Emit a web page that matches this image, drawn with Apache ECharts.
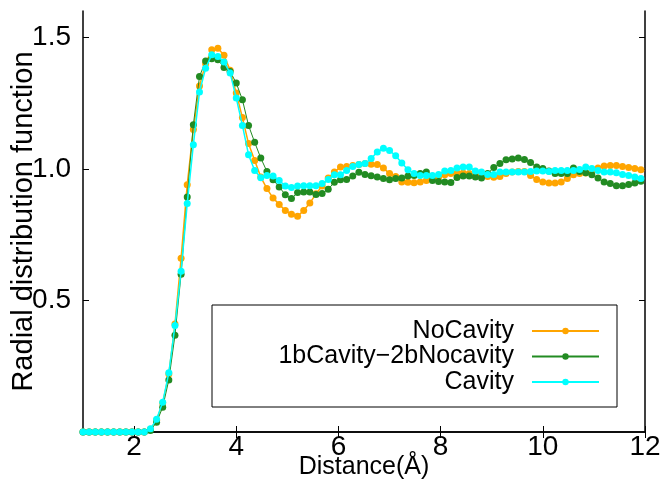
<!DOCTYPE html>
<html>
<head>
<meta charset="utf-8">
<script src="https://cdn.jsdelivr.net/npm/echarts@6/dist/echarts.min.js"></script>
<style>html,body{margin:0;padding:0;background:#fff;}#c{width:663px;height:479px;}</style>
</head>
<body>
<div id="c"></div>
<script>
const distance = [1.00,1.12,1.24,1.36,1.48,1.60,1.72,1.84,1.96,2.08,2.20,2.32,2.44,2.56,2.68,2.80,2.92,3.04,3.16,3.28,3.40,3.52,3.64,3.76,3.88,4.00,4.12,4.24,4.36,4.48,4.60,4.72,4.84,4.96,5.08,5.20,5.32,5.44,5.56,5.68,5.80,5.92,6.04,6.16,6.28,6.40,6.52,6.64,6.76,6.88,7.00,7.12,7.24,7.36,7.48,7.60,7.72,7.84,7.96,8.08,8.20,8.32,8.44,8.56,8.68,8.80,8.92,9.04,9.16,9.28,9.40,9.52,9.64,9.76,9.88,10.00,10.12,10.24,10.36,10.48,10.60,10.72,10.84,10.96,11.08,11.20,11.32,11.44,11.56,11.68,11.80,11.92];

const noCavity = [0,0,0,0,0,0,0,0,0,0,0,0.010,0.045,0.110,0.220,0.410,0.660,0.940,1.150,1.315,1.400,1.453,1.458,1.432,1.375,1.288,1.195,1.096,1.032,0.969,0.925,0.889,0.865,0.842,0.828,0.820,0.842,0.870,0.905,0.935,0.965,0.988,1.007,1.009,1.013,1.017,1.020,1.018,1.017,1.003,0.982,0.971,0.950,0.949,0.947,0.950,0.956,0.963,0.969,0.978,0.982,0.984,0.984,0.982,0.980,0.975,0.971,0.968,0.971,0.982,0.988,0.990,0.990,0.975,0.960,0.950,0.946,0.946,0.950,0.963,0.978,0.982,0.984,0.990,1.003,1.011,1.013,1.013,1.009,1.005,1.001,0.997];

const cav1bNo2b = [0,0,0,0,0,0,0,0,0,0,0,0.006,0.037,0.094,0.198,0.368,0.600,0.893,1.168,1.351,1.410,1.419,1.415,1.385,1.370,1.326,1.263,1.165,1.101,1.041,0.990,0.959,0.931,0.902,0.887,0.910,0.912,0.912,0.903,0.906,0.923,0.949,0.959,0.960,0.973,0.987,0.979,0.974,0.969,0.963,0.959,0.963,0.965,0.973,0.975,0.982,0.988,0.956,0.952,0.950,0.948,0.967,0.973,0.973,0.969,0.965,0.982,1.005,1.020,1.035,1.038,1.041,1.036,1.024,1.007,1.001,0.992,0.982,0.982,0.982,1.003,0.990,0.985,0.978,0.965,0.950,0.944,0.936,0.936,0.941,0.946,0.953];

const cavity = [0,0,0,0,0,0,0,0,0,0,0,0.012,0.048,0.113,0.225,0.405,0.611,0.868,1.092,1.292,1.382,1.434,1.427,1.406,1.364,1.269,1.165,1.054,0.994,0.966,0.975,0.973,0.956,0.935,0.929,0.935,0.936,0.936,0.936,0.944,0.960,0.978,0.978,0.994,1.009,1.017,1.020,1.039,1.064,1.078,1.070,1.050,1.022,0.997,0.982,0.975,0.975,0.975,0.979,0.992,0.994,1.003,1.007,1.007,0.992,0.988,0.979,0.979,0.988,0.988,0.988,0.988,0.988,0.990,0.992,0.992,0.990,0.994,0.994,0.994,0.994,0.998,1.007,1.001,0.994,0.988,0.988,0.985,0.979,0.975,0.969,0.963];

const seriesNames = ['NoCavity', '1bCavity\u22122bNocavity', 'Cavity'];
const seriesColors = ['#ffa500', '#228b22', '#00ffff'];
const seriesWidths = [1.5, 1, 1.5];
const xTicks = [2, 4, 6, 8, 10, 12];
const yTicks = [0.5, 1.0, 1.5];

const allData = [noCavity, cav1bNo2b, cavity];
const FONT = '"Liberation Sans", sans-serif';

const chart = echarts.init(document.getElementById('c'), null, {renderer: 'canvas'});

const axisLine = {show: true, lineStyle: {color: '#000', width: 1.5}};

const option = {
  animation: false,
  backgroundColor: '#fff',
  grid: {left: 83, right: 18, top: 11, bottom: 47, containLabel: false, outerBoundsMode: 'none'},
  xAxis: [
    {
      type: 'value', min: 1, max: 12, position: 'bottom',
      name: 'Distance(\u00c5)', nameLocation: 'middle', nameGap: 35, nameMoveOverlap: false,
      nameTextStyle: {fontFamily: FONT, fontSize: 25, color: '#000', verticalAlign: 'middle'},
      axisLine: axisLine,
      axisTick: {show: true, inside: true, length: 6, customValues: xTicks, lineStyle: {color: '#000'}},
      axisLabel: {customValues: xTicks, fontFamily: FONT, fontSize: 28, color: '#000', margin: 1},
      splitLine: {show: false}
    },
    {
      type: 'value', min: 1, max: 12, position: 'top',
      axisLine: axisLine,
      axisTick: {show: true, inside: true, length: 6, customValues: xTicks, lineStyle: {color: '#000'}},
      axisLabel: {show: false},
      splitLine: {show: false}
    }
  ],
  yAxis: [
    {
      type: 'value', min: 0, max: 1.6, position: 'left',
      name: 'Radial distribution function', nameLocation: 'middle', nameGap: 59, nameMoveOverlap: false,
      nameTextStyle: {fontFamily: FONT, fontSize: 29, color: '#000', verticalAlign: 'middle'},
      axisLine: axisLine,
      axisTick: {show: true, inside: true, length: 6, customValues: yTicks, lineStyle: {color: '#000'}},
      axisLabel: {customValues: yTicks, fontFamily: FONT, fontSize: 28, color: '#000', margin: 12,
        formatter: v => v.toFixed(1)},
      splitLine: {show: false}
    },
    {
      type: 'value', min: 0, max: 1.6, position: 'right',
      axisLine: axisLine,
      axisTick: {show: true, inside: true, length: 6, customValues: yTicks, lineStyle: {color: '#000'}},
      axisLabel: {show: false},
      splitLine: {show: false}
    }
  ],
  legend: seriesNames.map((n, k) => ({
    data: [n],
    orient: 'vertical',
    align: 'right',
    right: 63,
    top: 318 + k * 25.5,
    itemWidth: 67,
    itemHeight: 8,
    itemGap: 0,
    padding: 0,
    textStyle: {fontFamily: FONT, fontSize: 25, lineHeight: 26, color: '#000', padding: [0, 13, 0, 0]}
  })),
  graphic: [{
    type: 'rect', shape: {x: 212, y: 305, width: 405, height: 102},
    style: {fill: 'none', stroke: '#000', lineWidth: 1}, z: 1
  }],
  series: seriesNames.map((n, k) => ({
    name: n,
    type: 'line',
    xAxisIndex: 0,
    yAxisIndex: 0,
    data: distance.map((x, i) => [x, allData[k][i]]),
    symbol: 'circle',
    symbolSize: 7,
    showSymbol: true,
    lineStyle: {color: seriesColors[k], width: seriesWidths[k]},
    itemStyle: {color: seriesColors[k]},
    z: 2 + k
  }))
};
chart.setOption(option);
</script>
</body>
</html>
